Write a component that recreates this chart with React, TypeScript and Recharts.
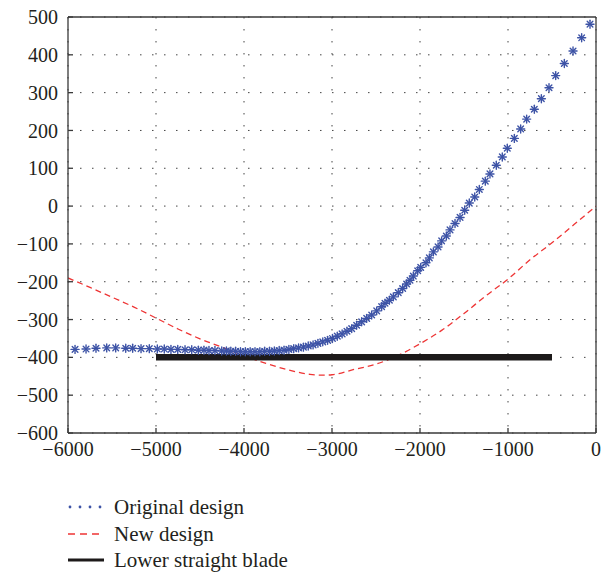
import { ComposedChart, Scatter, Line, XAxis, YAxis, CartesianGrid } from 'recharts';

const originalX = [
  -5920, -5795, -5682, -5560, -5458, -5344, -5265, -5170, -5076, -4985,
  -4906, -4830, -4753, -4670, -4594, -4519, -4455, -4398, -4330, -4253,
  -4200, -4150, -4095, -4040, -3985, -3930, -3875, -3820, -3765, -3710,
  -3655, -3600, -3545, -3490, -3435, -3380, -3325, -3270, -3215, -3160,
  -3105, -3050, -2995, -2940, -2885, -2830, -2776, -2720, -2663, -2606,
  -2549, -2492, -2436, -2398, -2348, -2303, -2247, -2197, -2152, -2114,
  -2076, -2026, -1992, -1932, -1894, -1848, -1795, -1754, -1701, -1659,
  -1602, -1545, -1492, -1440, -1378, -1326, -1258, -1205, -1133, -1065,
  -1008, -928, -856, -788, -701, -621, -534, -458, -360, -261,
  -163, -68,
];
const originalY = [
  -379, -378, -376, -375, -375, -376, -376, -377, -377, -378,
  -378, -379, -379, -380, -380, -381, -381, -382, -382, -383,
  -383, -384, -384, -385, -385, -385, -385, -385, -384, -384,
  -383, -382, -381, -379, -377, -375, -373, -370, -367, -363,
  -359, -355, -350, -344, -338, -331, -324, -315, -306, -297,
  -288, -277, -266, -257, -249, -240, -229, -218, -206, -196,
  -185, -171, -162, -150, -137, -121, -108, -92, -79, -63,
  -46, -30, -11, 8, 24, 44, 66, 85, 108, 130,
  153, 179, 204, 230, 256, 284, 313, 345, 377, 410,
  445, 481,
];

const newX = [
  -6000, -5750, -5500, -5250, -5000, -4750, -4500, -4250, -4000, -3750,
  -3500, -3250, -3100, -3000, -2750, -2500, -2250, -2000, -1750, -1500,
  -1250, -1000, -750, -500, -250, 0,
];
const newY = [
  -190, -215, -241, -267, -296, -325, -351, -373, -396, -416,
  -433, -445, -447, -446, -432, -418, -395, -364, -328, -284,
  -237, -193, -142, -97, -49, 0,
];

const bladeX = [-5000, -500];
const bladeY = [-400, -400];

const xTicks = [-6000, -5000, -4000, -3000, -2000, -1000, 0];
const yTicks = [-600, -500, -400, -300, -200, -100, 0, 100, 200, 300, 400, 500];

const BLUE = '#3d53a6';
const RED = '#ee3535';
const BLACK = '#1d1a1a';
const TEXT = '#231f20';
const FONT = '"Liberation Serif", "DejaVu Serif", serif';

const rows = (xs: number[], ys: number[]) => xs.map((x, i) => ({ x, y: ys[i] }));
const originalData = rows(originalX, originalY);
const newData = rows(newX, newY);
const bladeData = rows(bladeX, bladeY);

const fmt = (v: number) => String(v).replace('-', '\u2212');
const tickStyle = { fontSize: 20, fontFamily: FONT, fill: TEXT };
const axisLine = { stroke: '#3a3a3a', strokeWidth: 1.3 };
const tickLine = { stroke: '#3a3a3a', strokeWidth: 1.3 };

function Asterisk(props: any) {
  const { cx, cy } = props;
  if (cx == null || cy == null) return null;
  const r = 4;
  const d = r * 0.707;
  return (
    <g stroke={BLUE} strokeWidth={1.4} strokeLinecap="round">
      <line x1={cx - r} y1={cy} x2={cx + r} y2={cy} />
      <line x1={cx} y1={cy - r} x2={cx} y2={cy + r} />
      <line x1={cx - d} y1={cy - d} x2={cx + d} y2={cy + d} />
      <line x1={cx - d} y1={cy + d} x2={cx + d} y2={cy - d} />
    </g>
  );
}

const legendItems = [
  { label: 'Original design', kind: 'dots' },
  { label: 'New design', kind: 'dash' },
  { label: 'Lower straight blade', kind: 'solid' },
];

function LegendIcon({ kind }: { kind: string }) {
  return (
    <svg width={36} height={10} style={{ display: 'block' }}>
      {kind === 'dots' &&
        [2, 12, 22, 32].map((x) => <circle key={x} cx={x} cy={5} r={1.4} fill={BLUE} />)}
      {kind === 'dash' && (
        <line x1={0} y1={5} x2={36} y2={5} stroke={RED} strokeWidth={1.3} strokeDasharray="7 5" />
      )}
      {kind === 'solid' && <line x1={0} y1={5} x2={36} y2={5} stroke={BLACK} strokeWidth={3} />}
    </svg>
  );
}

export default function App() {
  return (
    <div style={{ position: 'absolute', left: 0, top: 0, width: 609, height: 574, background: '#fff' }}>
      <ComposedChart width={609} height={574} margin={{ top: 0, right: 0, bottom: 0, left: 0 }}>
        <CartesianGrid stroke="#444" strokeWidth={1} strokeDasharray="1.5 10.5" />
        <XAxis
          dataKey="x"
          type="number"
          domain={[-6000, 0]}
          ticks={xTicks}
          height={141}
          tickFormatter={fmt}
          tick={tickStyle}
          tickSize={-5}
          tickMargin={14}
          axisLine={axisLine}
          tickLine={tickLine}
          allowDataOverflow
        />
        <XAxis
          xAxisId="top"
          orientation="top"
          dataKey="x"
          type="number"
          domain={[-6000, 0]}
          ticks={xTicks}
          height={17}
          tick={false}
          tickSize={-5}
          axisLine={axisLine}
          tickLine={tickLine}
          allowDataOverflow
        />
        <YAxis
          dataKey="y"
          type="number"
          domain={[-600, 500]}
          ticks={yTicks}
          width={68}
          tickFormatter={fmt}
          tick={tickStyle}
          tickSize={-5}
          tickMargin={15}
          axisLine={axisLine}
          tickLine={tickLine}
          interval={0}
          allowDataOverflow
        />
        <YAxis
          yAxisId="right"
          orientation="right"
          dataKey="y"
          type="number"
          domain={[-600, 500]}
          ticks={yTicks}
          width={13}
          tick={false}
          tickSize={-5}
          axisLine={axisLine}
          tickLine={tickLine}
          allowDataOverflow
        />
        <Line
          data={newData}
          dataKey="y"
          type="monotone"
          stroke={RED}
          strokeWidth={1.3}
          strokeDasharray="6 4"
          dot={false}
          isAnimationActive={false}
        />
        <Line
          data={bladeData}
          dataKey="y"
          type="linear"
          stroke={BLACK}
          strokeWidth={6.5}
          dot={false}
          isAnimationActive={false}
        />
        <Scatter data={originalData} dataKey="y" shape={<Asterisk />} isAnimationActive={false} />
      </ComposedChart>
      <div style={{ position: 'absolute', left: 68, top: 494, fontFamily: FONT, fontSize: 21, color: TEXT }}>
        {legendItems.map((it) => (
          <div key={it.label} style={{ display: 'flex', alignItems: 'center', height: 26.5 }}>
            <LegendIcon kind={it.kind} />
            <span style={{ marginLeft: 10, lineHeight: '26px' }}>{it.label}</span>
          </div>
        ))}
      </div>
    </div>
  );
}
